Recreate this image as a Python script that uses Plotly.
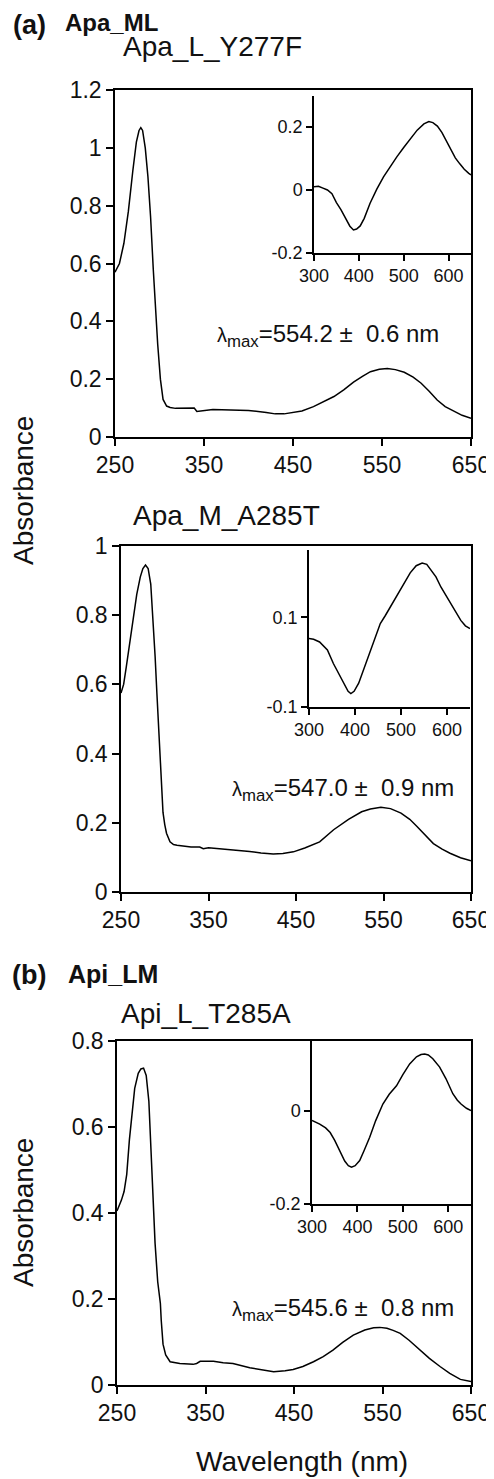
import plotly.graph_objects as go

# page has an 8px body margin; the figure fills the rest of the 494x1479 window
OFF = 8
W, H = 494 - OFF, 1479 - OFF

# ---------------- data ----------------
# Panel (a) Apa_L_Y277F main spectrum
wl_a1 = [250, 255, 260, 265, 270, 274, 277, 279, 281, 284, 287, 290, 293, 295, 298, 301, 304, 308,
         312, 318, 325, 335, 339, 342, 350, 360, 380, 400, 420, 430, 440, 450, 460, 473, 485, 496,
         507, 518, 528, 537, 547, 556, 565, 575, 585, 594, 603, 612, 621, 631, 640, 650]
abs_a1 = [0.57, 0.60, 0.67, 0.78, 0.92, 1.02, 1.06, 1.07, 1.06, 1.00, 0.90, 0.76, 0.58, 0.47, 0.32, 0.20, 0.13, 0.107,
          0.102, 0.099, 0.10, 0.10, 0.10, 0.088, 0.092, 0.095, 0.093, 0.092, 0.085, 0.080, 0.080, 0.084, 0.090, 0.105, 0.122, 0.14,
          0.163, 0.19, 0.21, 0.226, 0.234, 0.237, 0.233, 0.224, 0.207, 0.186, 0.158, 0.128, 0.105, 0.088, 0.075, 0.065]

# Inset difference spectrum, Apa_L_Y277F
wl_a1i = [300, 310, 320, 330, 340, 350, 360, 370, 380, 388, 395, 403, 412, 425, 440, 455, 470, 485, 500,
          515, 530, 545, 556, 565, 575, 585, 595, 605, 615, 625, 635, 645, 650]
abs_a1i = [0.01, 0.012, 0.006, 0.0, -0.012, -0.04, -0.062, -0.088, -0.115, -0.127, -0.124, -0.114, -0.09, -0.042, 0.003, 0.042, 0.075, 0.106, 0.135,
           0.163, 0.19, 0.21, 0.217, 0.214, 0.203, 0.183, 0.155, 0.126, 0.102, 0.083, 0.066, 0.053, 0.048]

# Panel (a) Apa_M_A285T main spectrum
wl_a2 = [250, 253, 256, 260, 264, 268, 272, 275, 278, 281, 284, 287, 289, 291, 293, 295, 298, 300, 302, 306,
         310, 314, 320, 330, 340, 344, 350, 360, 378, 397, 410, 424, 435, 447, 460, 477, 493, 510, 525, 535,
         547, 558, 570, 580, 588, 597, 607, 617, 626, 638, 650]
abs_a2 = [0.575, 0.60, 0.65, 0.72, 0.80, 0.86, 0.91, 0.935, 0.945, 0.935, 0.89, 0.78, 0.68, 0.575, 0.47, 0.37, 0.23, 0.195, 0.17, 0.145,
          0.137, 0.135, 0.133, 0.13, 0.13, 0.125, 0.128, 0.126, 0.121, 0.117, 0.113, 0.11, 0.111, 0.116, 0.127, 0.145, 0.18, 0.21, 0.232, 0.240,
          0.245, 0.241, 0.228, 0.21, 0.19, 0.165, 0.14, 0.124, 0.112, 0.099, 0.09]

# Inset difference spectrum, Apa_M_A285T
wl_a2i = [300, 310, 323, 333, 340, 353, 365, 375, 385, 391, 398, 408, 420, 433, 445, 455, 466, 477, 490,
          506, 520, 533, 546, 556, 566, 576, 587, 598, 608, 619, 630, 640, 650]
abs_a2i = [0.053, 0.051, 0.045, 0.035, 0.027, -0.003, -0.027, -0.047, -0.065, -0.07, -0.065, -0.047, -0.013, 0.027, 0.06, 0.086, 0.104, 0.123, 0.148,
           0.175, 0.199, 0.215, 0.221, 0.218, 0.205, 0.19, 0.167, 0.148, 0.131, 0.11, 0.093, 0.081, 0.075]

# Panel (b) Api_L_T285A main spectrum
wl_b1 = [250, 255, 258, 261, 264, 267, 270, 274, 277, 280, 283, 286, 289, 291, 293, 296, 299, 300, 302, 305,
         310, 321, 330, 336, 340, 344, 350, 359, 370, 381, 400, 415, 427, 440, 449, 460, 472, 483, 494, 505,
         517, 530, 540, 547, 555, 562, 570, 580, 592, 603, 615, 626, 638, 650]
abs_b1 = [0.405, 0.43, 0.45, 0.49, 0.57, 0.64, 0.69, 0.725, 0.735, 0.737, 0.72, 0.66, 0.52, 0.43, 0.33, 0.24, 0.19, 0.15, 0.095, 0.07,
          0.054, 0.05, 0.049, 0.048, 0.05, 0.055, 0.055, 0.055, 0.052, 0.05, 0.04, 0.035, 0.031, 0.033, 0.036, 0.043, 0.054, 0.066, 0.081, 0.099,
          0.116, 0.128, 0.133, 0.134, 0.132, 0.127, 0.12, 0.104, 0.081, 0.062, 0.043, 0.027, 0.013, 0.008]

# Inset difference spectrum, Api_L_T285A
wl_b1i = [300, 317, 330, 340, 350, 361, 372, 380, 387, 395, 405, 415, 427, 440, 456, 470, 486, 500,
          515, 530, 540, 548, 556, 566, 581, 595, 610, 620, 628, 640, 650]
abs_b1i = [-0.021, -0.029, -0.037, -0.047, -0.064, -0.086, -0.108, -0.118, -0.121, -0.118, -0.107, -0.085, -0.057, -0.022, 0.014, 0.035, 0.053, 0.077,
           0.1, 0.115, 0.12, 0.121, 0.119, 0.111, 0.093, 0.068, 0.036, 0.022, 0.014, 0.005, 0.0]

main_xticks = [250, 350, 450, 550, 650]
inset_xticks = [300, 400, 500, 600]
a1_yticks = [0, 0.2, 0.4, 0.6, 0.8, 1.0, 1.2]
a1_ytext = ["0", "0.2", "0.4", "0.6", "0.8", "1", "1.2"]
a2_yticks = [0, 0.2, 0.4, 0.6, 0.8, 1.0]
a2_ytext = ["0", "0.2", "0.4", "0.6", "0.8", "1"]
b1_yticks = [0, 0.2, 0.4, 0.6, 0.8]
b1_ytext = ["0", "0.2", "0.4", "0.6", "0.8"]
a1i_yticks = [-0.2, 0, 0.2]
a1i_ytext = ["-0.2", "0", "0.2"]
a2i_yticks = [-0.1, 0.1]
a2i_ytext = ["-0.1", "0.1"]
b1i_yticks = [-0.2, 0]
b1i_ytext = ["-0.2", "0"]

titles = ["Apa_L_Y277F", "Apa_M_A285T", "Api_L_T285A"]
lam_labels = ["554.2", "547.0", "545.6"]
lam_errs = ["0.6", "0.9", "0.8"]

# ---------------- layout helpers ----------------
FONT = "Liberation Sans, Arial, Helvetica, sans-serif"


def px_x(v):
    return (v - OFF) / W


def px_y(v):
    return 1 - (v - OFF) / H


def xd(a, b):
    return [px_x(a), px_x(b)]


def yd(top, bottom):
    return [px_y(bottom), px_y(top)]


fig = go.Figure()
line = dict(color="black", width=1.5)
fig.add_trace(go.Scatter(x=wl_a1, y=abs_a1, mode="lines", line=line, xaxis="x", yaxis="y"))
fig.add_trace(go.Scatter(x=wl_a1i, y=abs_a1i, mode="lines", line=line, xaxis="x2", yaxis="y2"))
fig.add_trace(go.Scatter(x=wl_a2, y=abs_a2, mode="lines", line=line, xaxis="x3", yaxis="y3"))
fig.add_trace(go.Scatter(x=wl_a2i, y=abs_a2i, mode="lines", line=line, xaxis="x4", yaxis="y4"))
fig.add_trace(go.Scatter(x=wl_b1, y=abs_b1, mode="lines", line=line, xaxis="x5", yaxis="y5"))
fig.add_trace(go.Scatter(x=wl_b1i, y=abs_b1i, mode="lines", line=line, xaxis="x6", yaxis="y6"))

common = dict(showgrid=False, zeroline=False, automargin=False, linecolor="black",
              linewidth=1.5, ticks="outside", tickwidth=1.5, tickcolor="black", showline=True)


def main_x(dom, anchor):
    return dict(domain=dom, anchor=anchor, range=[250, 650], tickvals=main_xticks,
                mirror=True, ticklen=7, tickfont=dict(size=23, color="#111", family=FONT), **common)


def main_y(dom, anchor, rng, tv, tt):
    return dict(domain=dom, anchor=anchor, range=rng, tickvals=tv, ticktext=tt,
                mirror=True, ticklen=7, tickfont=dict(size=23, color="#111", family=FONT), **common)


def ins_x(dom, anchor):
    return dict(domain=dom, anchor=anchor, range=[300, 650], tickvals=inset_xticks,
                mirror=False, ticklen=6, tickfont=dict(size=18, color="#111", family=FONT), **common)


def ins_y(dom, anchor, rng, tv, tt):
    return dict(domain=dom, anchor=anchor, range=rng, tickvals=tv, ticktext=tt,
                mirror=False, ticklen=6, tickfont=dict(size=18, color="#111", family=FONT), **common)


layout = dict(
    width=W, height=H, margin=dict(l=0, r=0, t=0, b=0, pad=0, autoexpand=False),
    paper_bgcolor="white", plot_bgcolor="rgba(0,0,0,0)", showlegend=False,
    font=dict(family=FONT, color="#111"),
    xaxis=main_x(xd(115, 471), "y"),
    yaxis=main_y(yd(90, 437), "x", [0, 1.2], a1_yticks, a1_ytext),
    xaxis2=ins_x(xd(314, 471), "y2"),
    yaxis2=ins_y(yd(95.5, 253), "x2", [-0.2, 0.3], a1i_yticks, a1i_ytext),
    xaxis3=main_x(xd(121, 471), "y3"),
    yaxis3=main_y(yd(546, 892), "x3", [0, 1.0], a2_yticks, a2_ytext),
    xaxis4=ins_x(xd(309, 470), "y4"),
    yaxis4=ins_y(yd(550, 707), "x4", [-0.1, 0.25], a2i_yticks, a2i_ytext),
    xaxis5=main_x(xd(117, 471), "y5"),
    yaxis5=main_y(yd(1041, 1385), "x5", [0, 0.8], b1_yticks, b1_ytext),
    xaxis6=ins_x(xd(312, 471), "y6"),
    yaxis6=ins_y(yd(1040.5, 1204), "x6", [-0.2, 0.15], b1i_yticks, b1i_ytext),
)
fig.update_layout(**layout)


def ann(text, px, py, size, xanchor="left", bold=False, angle=0):
    t = f"<b>{text}</b>" if bold else text
    fig.add_annotation(text=t, x=px_x(px), y=px_y(py), xref="paper", yref="paper",
                       xanchor=xanchor, yanchor="middle", showarrow=False, textangle=angle,
                       borderpad=0, font=dict(size=size, family=FONT, color="#111"))


ann("(a)", 12, 25, 27, bold=True)
ann("Apa_ML", 64, 23, 24, bold=True)
ann(titles[0], 122, 47, 28)
ann(titles[1], 132, 515, 28)
ann("(b)", 11, 975, 27, bold=True)
ann("Api_LM", 67, 974, 25, bold=True)
ann(titles[2], 120, 1014, 28)
ann("Absorbance", 23, 491, 28, xanchor="center", angle=-90)
ann("Absorbance", 23, 1213, 28, xanchor="center", angle=-90)
ann("Wavelength (nm)", 302, 1461, 28, xanchor="center")

lam_pos = [(216, 335), (231, 789), (231, 1309)]
for (px, py), v, e in zip(lam_pos, lam_labels, lam_errs):
    txt = f"<span style='font-size:20px'>λ</span><sub>max</sub>={v} ±\u00a0 {e} nm"
    ann(txt, px, py, 24)

fig.write_html("out.html")
